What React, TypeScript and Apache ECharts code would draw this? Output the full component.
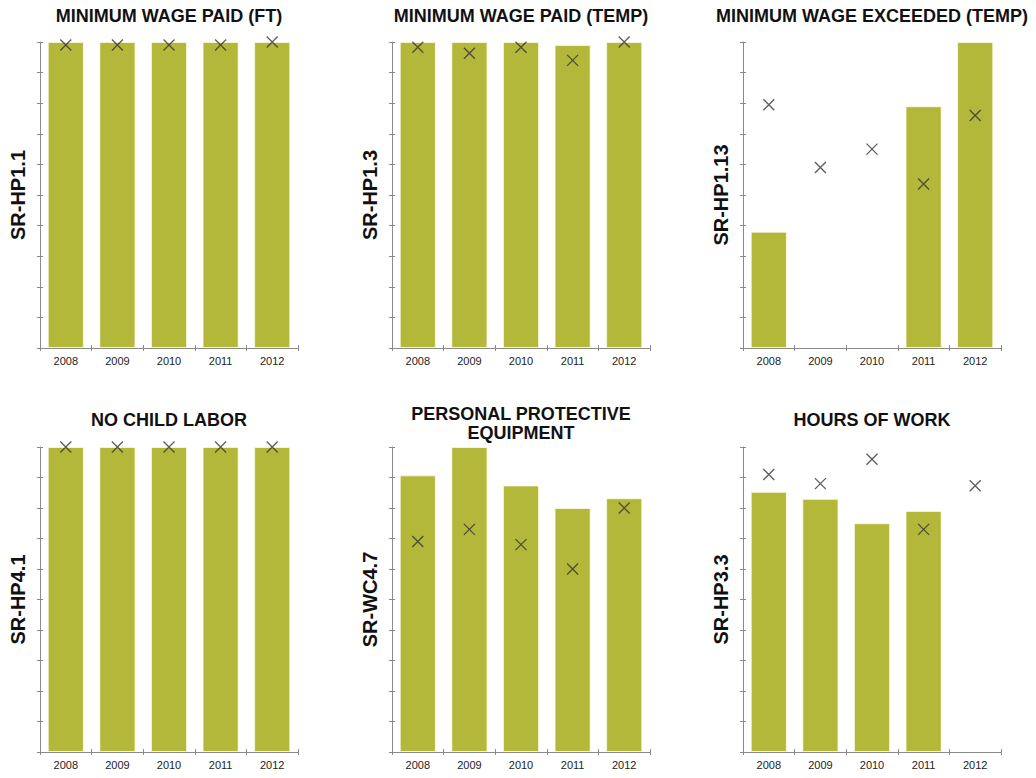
import React, { useEffect, useRef } from "react";
import * as echarts from "echarts";

const years = ["2008", "2009", "2010", "2011", "2012"];

const titles = [
  "MINIMUM WAGE PAID (FT)",
  "MINIMUM WAGE PAID (TEMP)",
  "MINIMUM WAGE EXCEEDED (TEMP)",
  "NO CHILD LABOR",
  "PERSONAL PROTECTIVE\nEQUIPMENT",
  "HOURS OF WORK",
];
const axisNames = ["SR-HP1.1", "SR-HP1.3", "SR-HP1.13", "SR-HP4.1", "SR-WC4.7", "SR-HP3.3"];

const barsFT = [100, 100, 100, 100, 100];
const marksFT = [99, 99, 99, 99, 100];
const barsTemp = [100, 100, 100, 99, 100];
const marksTemp = [98.3, 96.3, 98.3, 94, 100];
const barsExceeded = [38, null, null, 79, 100];
const marksExceeded = [79.5, 59, 65, 53.6, 76];
const barsChild = [100, 100, 100, 100, 100];
const marksChild = [100, 100, 100, 100, 100];
const barsPPE = [90.7, 100, 87.4, 80, 83.2];
const marksPPE = [69, 73, 68, 60, 80];
const barsHours = [85.3, 83, 75, 79, null];
const marksHours = [91, 88, 96, 73, 87.3];

const barSets = [barsFT, barsTemp, barsExceeded, barsChild, barsPPE, barsHours];
const markSets = [marksFT, marksTemp, marksExceeded, marksChild, marksPPE, marksHours];

const yMin = 0;
const yMax = 100;
const yInterval = 10;

// layout
const gridLefts = [40, 392, 743];
const gridTops = [42, 447];
const gridW = 258;
const gridHs = [306, 305];

const FONT = "'Liberation Sans', Arial, Helvetica, sans-serif";
const AXIS_COLOR = "#8a8a8a";
const BAR_COLOR = "#b3b83a";

export default function App() {
  const ref = useRef<HTMLDivElement>(null);

  useEffect(() => {
    if (!ref.current) return;
    const chart = echarts.init(ref.current, null, { renderer: "svg" });

    const grids: any[] = [];
    const xAxes: any[] = [];
    const yAxes: any[] = [];
    const series: any[] = [];
    const graphics: any[] = [];

    for (let i = 0; i < 6; i++) {
      const row = Math.floor(i / 3);
      const col = i % 3;
      const left = gridLefts[col];
      const top = gridTops[row];
      const h = gridHs[row];
      grids.push({ left, top, width: gridW, height: h, containLabel: false });

      // main x axis (outside ticks, labels)
      xAxes.push({
        type: "category",
        gridIndex: i,
        position: "bottom",
        data: years,
        boundaryGap: true,
        axisLine: { show: true, lineStyle: { color: AXIS_COLOR, width: 1 } },
        axisTick: { show: true, inside: false, length: 3, lineStyle: { color: AXIS_COLOR } },
        axisLabel: { show: true, color: "#222", fontSize: 11, fontFamily: FONT, margin: 7 },
        splitLine: { show: false },
      });
      // duplicate x axis (inside ticks)
      xAxes.push({
        type: "category",
        gridIndex: i,
        position: "bottom",
        data: years,
        boundaryGap: true,
        axisLine: { show: false },
        axisTick: { show: true, inside: true, length: 3, lineStyle: { color: AXIS_COLOR } },
        axisLabel: { show: false },
        splitLine: { show: false },
      });
      // main y axis
      yAxes.push({
        type: "value",
        gridIndex: i,
        position: "left",
        min: yMin,
        max: yMax,
        interval: yInterval,
        name: axisNames[i],
        nameLocation: "middle",
        nameRotate: 90,
        nameGap: 12,
        nameTextStyle: { fontFamily: FONT, fontWeight: "bold", fontSize: 20, color: "#111" },
        axisLine: { show: true, lineStyle: { color: AXIS_COLOR, width: 1 } },
        axisTick: { show: true, inside: false, length: 3, lineStyle: { color: AXIS_COLOR } },
        axisLabel: { show: false },
        splitLine: { show: false },
      });
      // duplicate y axis (inside ticks)
      yAxes.push({
        type: "value",
        gridIndex: i,
        position: "left",
        min: yMin,
        max: yMax,
        interval: yInterval,
        axisLine: { show: false },
        axisTick: { show: true, inside: true, length: 3, lineStyle: { color: AXIS_COLOR } },
        axisLabel: { show: false },
        splitLine: { show: false },
      });

      series.push({
        type: "bar",
        xAxisIndex: 2 * i,
        yAxisIndex: 2 * i,
        data: barSets[i],
        barCategoryGap: "30%",
        itemStyle: { color: BAR_COLOR, borderColor: "rgba(255,255,230,0.7)", borderWidth: 1 },
        z: 2,
      });
      series.push({
        type: "scatter",
        xAxisIndex: 2 * i,
        yAxisIndex: 2 * i,
        data: markSets[i],
        symbol: "path://M0,0L10,10M10,0L0,10",
        symbolSize: 11,
        clip: false,
        itemStyle: { color: "transparent", borderColor: "#333", borderWidth: 1.3 },
        z: 5,
      });

      // title
      const cx = left + gridW / 2;
      const lines = titles[i].split("\n");
      const titleCenters = row === 0 ? [16] : lines.length > 1 ? [414, 433] : [420];
      lines.forEach((line, k) => {
        graphics.push({
          type: "text",
          x: cx,
          y: titleCenters[k],
          style: {
            text: line,
            fontFamily: FONT,
            fontWeight: "bold",
            fontSize: 18,
            fill: "#111",
            textAlign: "center",
            textVerticalAlign: "middle",
          },
        });
      });
    }

    chart.setOption({
      animation: false,
      backgroundColor: "#ffffff",
      grid: grids,
      xAxis: xAxes,
      yAxis: yAxes,
      series,
      graphic: graphics,
    });

    return () => chart.dispose();
  }, []);

  return (
    <div
      ref={ref}
      style={{ position: "fixed", left: 0, top: 0, width: 1036, height: 778 }}
    />
  );
}
